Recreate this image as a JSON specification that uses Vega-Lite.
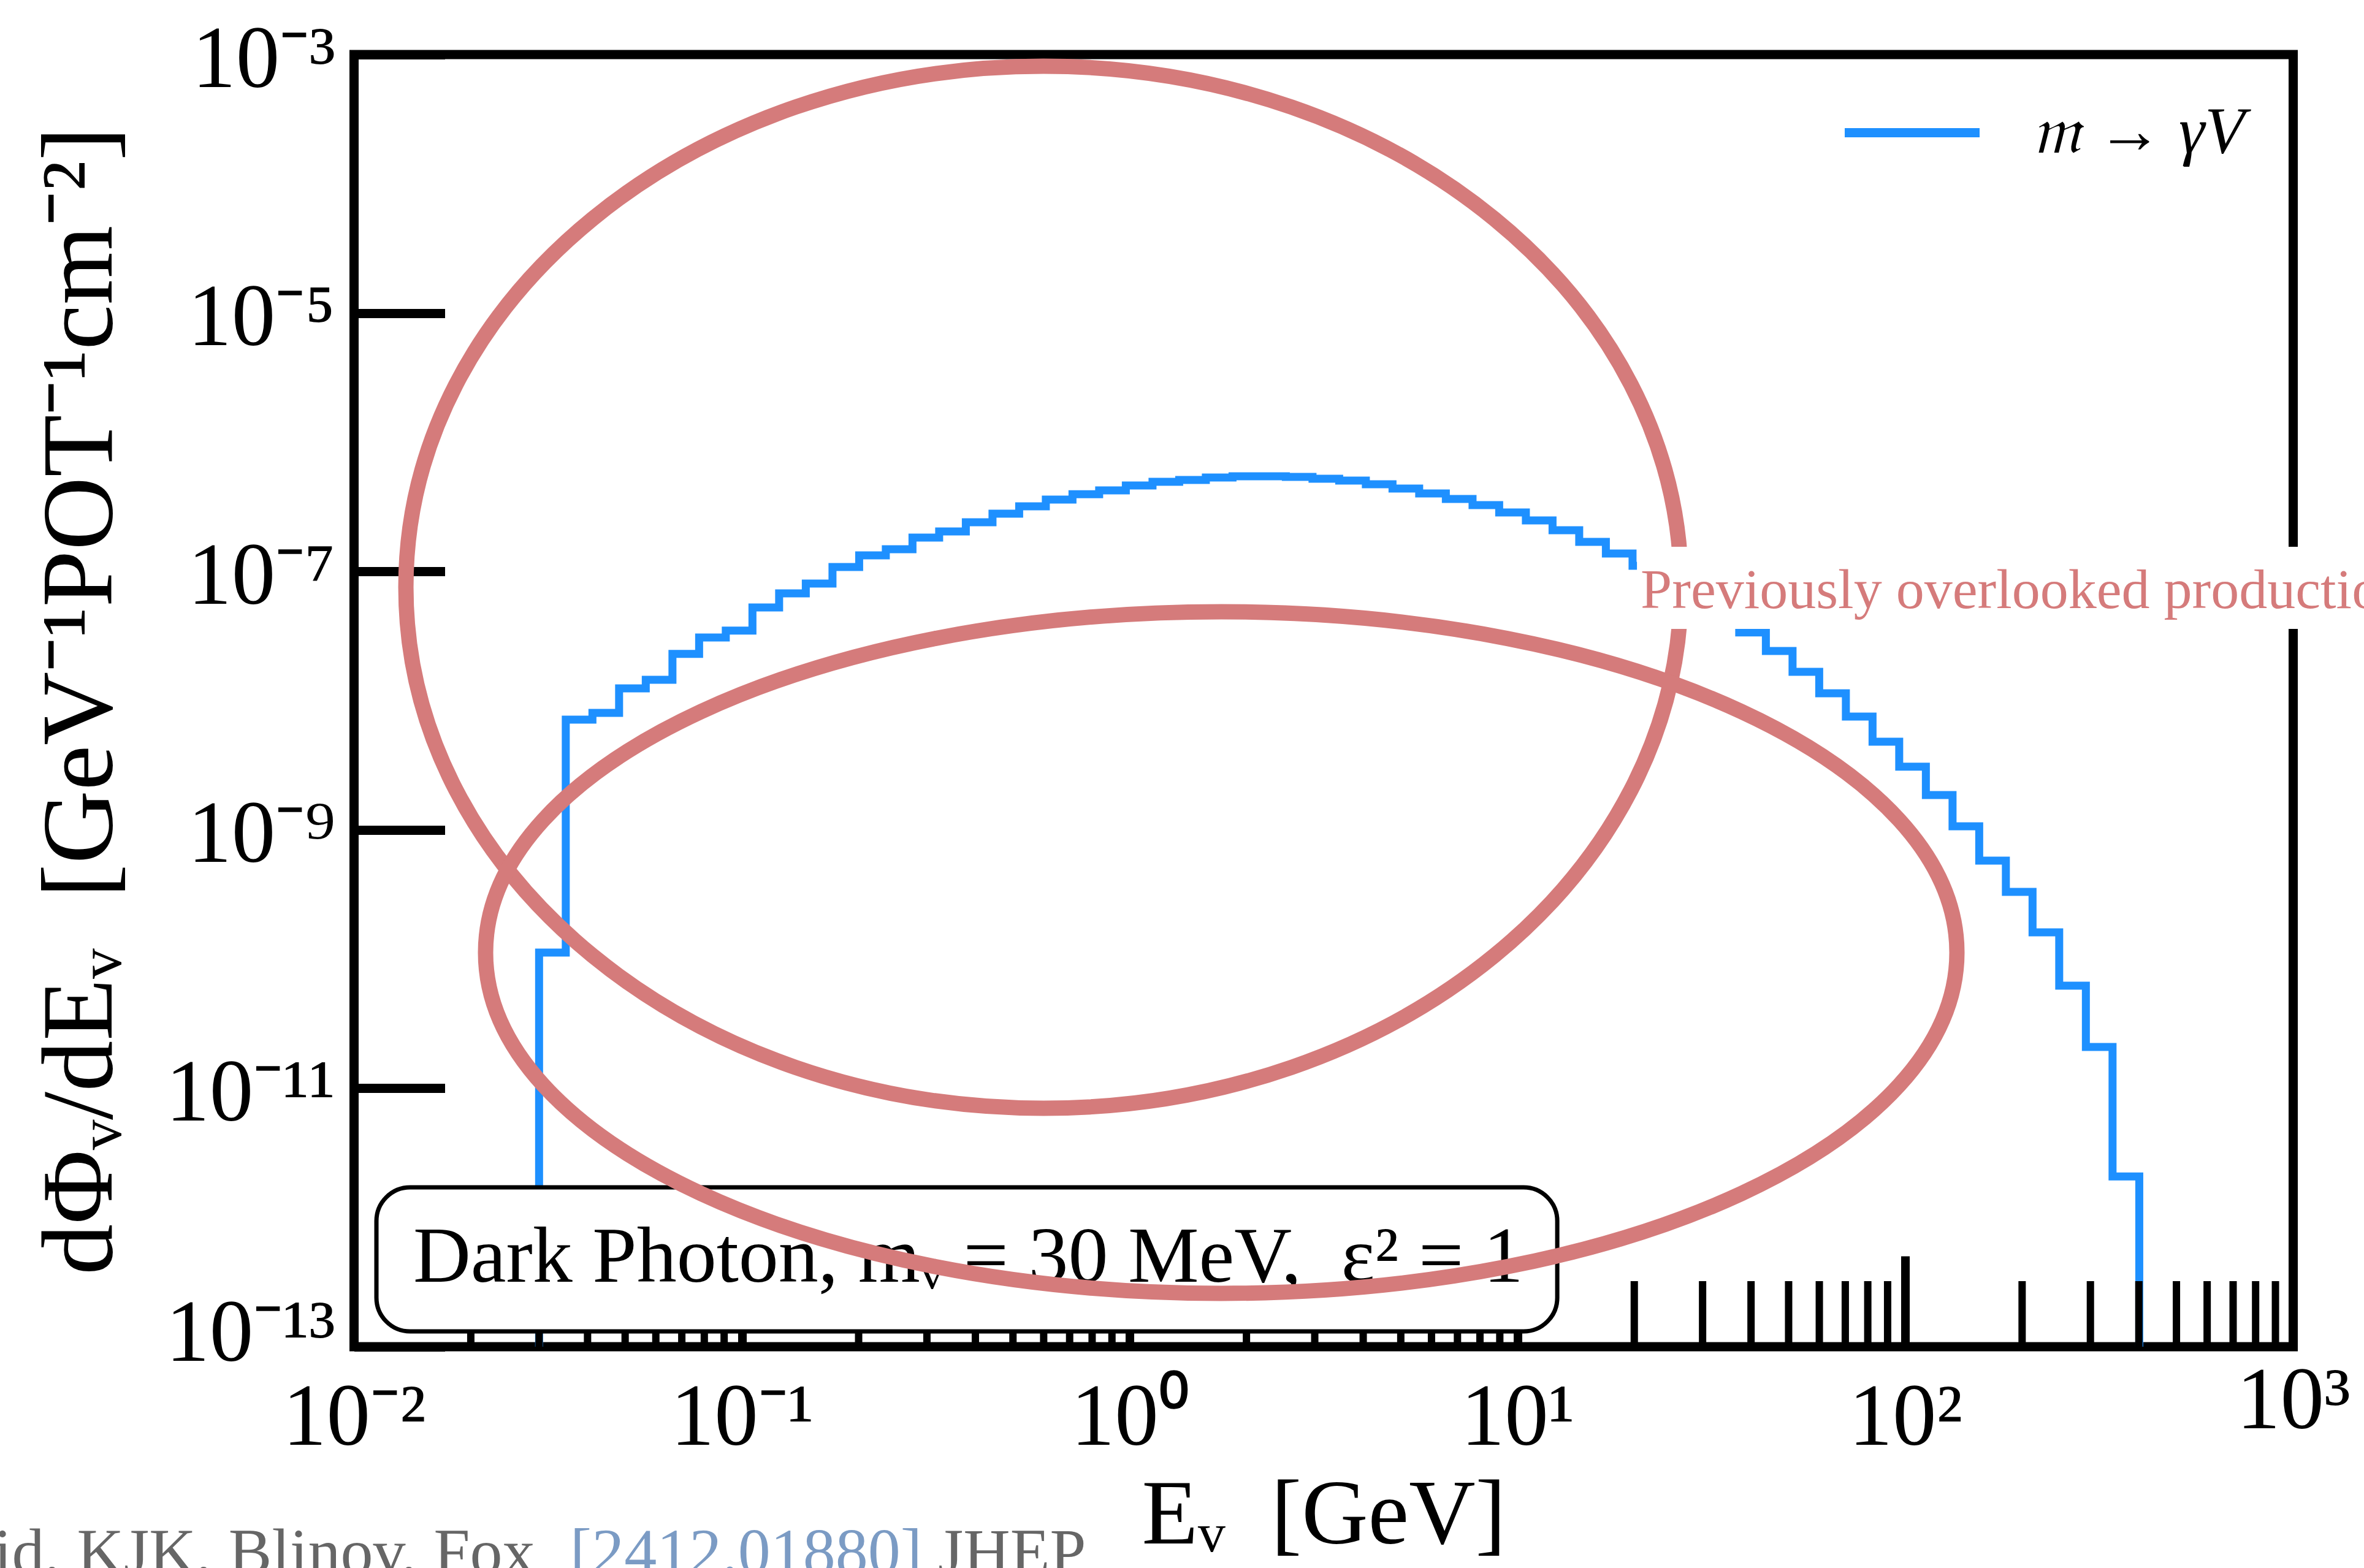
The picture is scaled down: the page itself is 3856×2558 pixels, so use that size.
{
  "$schema": "https://vega.github.io/schema/vega-lite/v6.json",
  "width": 3163,
  "height": 2108,
  "autosize": {"type": "none"},
  "padding": {"left": 577.5, "top": 89, "right": 115.5, "bottom": 361},
  "background": "white",
  "config": {
    "view": {"stroke": "black", "strokeWidth": 15},
    "font": "Liberation Serif"
  },
  "datasets": {
    "flux": [
      {"i": 0, "E": 0.03, "flux": 1e-13},
      {"i": 1, "E": 0.03, "flux": 1.122e-10},
      {"i": 2, "E": 0.03515, "flux": 7.13e-9},
      {"i": 3, "E": 0.04118, "flux": 8.04e-9},
      {"i": 4, "E": 0.04824, "flux": 1.245e-8},
      {"i": 5, "E": 0.05652, "flux": 1.449e-8},
      {"i": 6, "E": 0.06622, "flux": 2.30e-8},
      {"i": 7, "E": 0.07758, "flux": 3.08e-8},
      {"i": 8, "E": 0.09089, "flux": 3.48e-8},
      {"i": 9, "E": 0.10648, "flux": 5.26e-8},
      {"i": 10, "E": 0.12475, "flux": 6.76e-8},
      {"i": 11, "E": 0.14616, "flux": 8.05e-8},
      {"i": 12, "E": 0.17125, "flux": 1.081e-7},
      {"i": 13, "E": 0.20064, "flux": 1.330e-7},
      {"i": 14, "E": 0.23504, "flux": 1.486e-7},
      {"i": 15, "E": 0.27536, "flux": 1.828e-7},
      {"i": 16, "E": 0.32261, "flux": 2.037e-7},
      {"i": 17, "E": 0.37797, "flux": 2.399e-7},
      {"i": 18, "E": 0.44281, "flux": 2.799e-7},
      {"i": 19, "E": 0.51877, "flux": 3.192e-7},
      {"i": 20, "E": 0.60777, "flux": 3.597e-7},
      {"i": 21, "E": 0.71198, "flux": 3.963e-7},
      {"i": 22, "E": 0.83412, "flux": 4.236e-7},
      {"i": 23, "E": 0.97728, "flux": 4.624e-7},
      {"i": 24, "E": 1.1450, "flux": 4.943e-7},
      {"i": 25, "E": 1.3414, "flux": 5.105e-7},
      {"i": 26, "E": 1.5716, "flux": 5.333e-7},
      {"i": 27, "E": 1.8412, "flux": 5.445e-7},
      {"i": 28, "E": 2.1570, "flux": 5.445e-7},
      {"i": 29, "E": 2.5271, "flux": 5.383e-7},
      {"i": 30, "E": 2.9605, "flux": 5.212e-7},
      {"i": 31, "E": 3.4684, "flux": 5.047e-7},
      {"i": 32, "E": 4.0633, "flux": 4.732e-7},
      {"i": 33, "E": 4.7603, "flux": 4.375e-7},
      {"i": 34, "E": 5.5770, "flux": 4.009e-7},
      {"i": 35, "E": 6.5337, "flux": 3.639e-7},
      {"i": 36, "E": 7.6560, "flux": 3.258e-7},
      {"i": 37, "E": 8.9676, "flux": 2.858e-7},
      {"i": 38, "E": 10.508, "flux": 2.483e-7},
      {"i": 39, "E": 12.310, "flux": 2.084e-7},
      {"i": 40, "E": 14.422, "flux": 1.694e-7},
      {"i": 41, "E": 16.896, "flux": 1.377e-7},
      {"i": 42, "E": 19.795, "flux": 1.107e-7},
      {"i": 43, "E": 23.190, "flux": 8.61e-8},
      {"i": 44, "E": 27.168, "flux": 6.47e-8},
      {"i": 45, "E": 31.828, "flux": 4.72e-8},
      {"i": 46, "E": 37.289, "flux": 3.37e-8},
      {"i": 47, "E": 43.686, "flux": 2.42e-8},
      {"i": 48, "E": 51.180, "flux": 1.671e-8},
      {"i": 49, "E": 59.958, "flux": 1.140e-8},
      {"i": 50, "E": 70.245, "flux": 7.53e-9},
      {"i": 51, "E": 82.296, "flux": 4.81e-9},
      {"i": 52, "E": 96.413, "flux": 3.08e-9},
      {"i": 53, "E": 112.95, "flux": 1.858e-9},
      {"i": 54, "E": 132.33, "flux": 1.064e-9},
      {"i": 55, "E": 155.03, "flux": 5.78e-10},
      {"i": 56, "E": 181.62, "flux": 3.31e-10},
      {"i": 57, "E": 212.78, "flux": 1.611e-10},
      {"i": 58, "E": 249.28, "flux": 6.22e-11},
      {"i": 59, "E": 292.04, "flux": 2.09e-11},
      {"i": 60, "E": 342.14, "flux": 2.08e-12},
      {"i": 61, "E": 401.0, "flux": 2.08e-12},
      {"i": 62, "E": 401.0, "flux": 1e-13}
    ],
    "minor": [
      {"tick": 0.02}, {"tick": 0.03}, {"tick": 0.04}, {"tick": 0.05}, {"tick": 0.06}, {"tick": 0.07}, {"tick": 0.08}, {"tick": 0.09},
      {"tick": 0.2}, {"tick": 0.3}, {"tick": 0.4}, {"tick": 0.5}, {"tick": 0.6}, {"tick": 0.7}, {"tick": 0.8}, {"tick": 0.9},
      {"tick": 2}, {"tick": 3}, {"tick": 4}, {"tick": 5}, {"tick": 6}, {"tick": 7}, {"tick": 8}, {"tick": 9},
      {"tick": 20}, {"tick": 30}, {"tick": 40}, {"tick": 50}, {"tick": 60}, {"tick": 70}, {"tick": 80}, {"tick": 90},
      {"tick": 200}, {"tick": 300}, {"tick": 400}, {"tick": 500}, {"tick": 600}, {"tick": 700}, {"tick": 800}, {"tick": 900}
    ]
  },
  "layer": [
    {
      "data": {"name": "flux"},
      "mark": {"type": "line", "interpolate": "step-after", "strokeWidth": 13, "strokeJoin": "miter"},
      "encoding": {
        "x": {
          "field": "E", "type": "quantitative",
          "scale": {"type": "log", "domain": [0.01, 1000], "nice": false},
          "axis": {
            "title": "Eᵥ\u00a0\u00a0[GeV]",
            "values": [0.01, 0.1, 1, 10, 100, 1000],
            "labelExpr": "['10⁻²','10⁻¹','10⁰','10¹','10²','10³'][round(log(datum.value)/LN10)+2]",
            "domain": false, "grid": false,
            "tickSize": -148, "tickWidth": 14, "tickColor": "black",
            "labelFont": "Liberation Serif", "labelFontSize": 143, "labelColor": "black", "labelLimit": 0,
            "labelPadding": {"condition": {"test": "datum.value > 500", "value": 280}, "value": 307},
            "labelBaseline": "alphabetic",
            "labelFlush": false, "labelOverlap": false, "labelBound": false,
            "titleFont": "Liberation Serif", "titleFontSize": 150, "titleFontWeight": "normal",
            "titleColor": "black", "titlePadding": 13
          }
        },
        "y": {
          "field": "flux", "type": "quantitative",
          "scale": {"type": "log", "domain": [1e-13, 0.001], "nice": false},
          "axis": {
            "title": "dΦᵥ/dEᵥ\u00a0\u00a0[GeV⁻¹POT⁻¹cm⁻²]",
            "values": [1e-13, 1e-11, 1e-9, 1e-7, 1e-5, 0.001],
            "labelExpr": "['10⁻¹³','','10⁻¹¹','','10⁻⁹','','10⁻⁷','','10⁻⁵','','10⁻³'][round(log(datum.value)/LN10)+13]",
            "domain": false, "grid": false,
            "tickSize": -148, "tickWidth": 15, "tickColor": "black",
            "labelFont": "Liberation Serif", "labelFontSize": 143, "labelColor": "black", "labelLimit": 0,
            "labelPadding": 179, "labelBaseline": "alphabetic",
            "labelOffset": {"condition": {"test": "datum.value < 1e-12", "value": 22}, "value": 52},
            "labelAlign": "right",
            "labelFlush": false, "labelOverlap": false, "labelBound": false,
            "titleFont": "Liberation Serif", "titleFontSize": 166, "titleFontWeight": "normal",
            "titleColor": "black", "titlePadding": 196, "titleBaseline": "alphabetic"
          }
        },
        "order": {"field": "i", "type": "quantitative"},
        "color": {
          "datum": "𝔪 → γV", "type": "nominal",
          "scale": {"range": ["#1e90ff"]},
          "legend": {
            "title": null, "orient": "none", "legendX": 2424, "legendY": 10,
            "padding": 0, "symbolType": "stroke", "symbolSize": 48400, "symbolStrokeWidth": 15,
            "labelFont": "Liberation Serif", "labelFontSize": 107, "labelFontStyle": "italic",
            "labelColor": "black", "labelOffset": 77, "labelLimit": 2000
          }
        }
      }
    },
    {
      "data": {"name": "minor"},
      "mark": {"type": "rule", "strokeWidth": 12, "color": "black", "strokeCap": "butt"},
      "encoding": {
        "x": {"field": "tick", "type": "quantitative", "title": "Eᵥ\u00a0\u00a0[GeV]"},
        "y": {"datum": 1e-13, "type": "quantitative"},
        "y2": {"datum": 3.218e-13}
      }
    },
    {
      "data": {"values": [{"note": "Dark Photon, mᵥ = 30 MeV,\u00a0\u00a0ε² = 1"}]},
      "layer": [
        {
          "mark": {"type": "rect", "fill": "white", "stroke": "black", "strokeWidth": 7, "cornerRadius": 55},
          "encoding": {
            "x": {"datum": 0.011421, "type": "quantitative"},
            "x2": {"datum": 12.66},
            "y": {"datum": 1.711e-12, "type": "quantitative"},
            "y2": {"datum": 1.314e-13}
          }
        },
        {
          "mark": {"type": "text", "align": "left", "baseline": "alphabetic", "font": "Liberation Serif", "fontSize": 130, "color": "black"},
          "encoding": {
            "x": {"datum": 0.014207, "type": "quantitative"},
            "y": {"datum": 3.18e-13, "type": "quantitative"},
            "text": {"field": "note"}
          }
        }
      ]
    },
    {
      "data": {"values": [{"ellipse": "upper"}]},
      "mark": {"type": "point", "shape": "M1,0C1,0.4514,0.5523,0.8173,0,0.8173C-0.5523,0.8173,-1,0.4514,-1,0C-1,-0.4514,-0.5523,-0.8173,0,-0.8173C0.5523,-0.8173,1,-0.4514,1,0Z", "size": 4326400, "filled": false, "color": "#d57b7b", "stroke": "#d57b7b", "strokeWidth": 25, "opacity": 1},
      "encoding": {
        "x": {"datum": 0.5993, "type": "quantitative"},
        "y": {"datum": 7.544e-8, "type": "quantitative"}
      }
    },
    {
      "data": {"values": [{"ellipse": "lower"}]},
      "mark": {"type": "point", "shape": "M1,0C1,0.2559,0.5523,0.4633,0,0.4633C-0.5523,0.4633,-1,0.2559,-1,0C-1,-0.2559,-0.5523,-0.4633,0,-0.4633C0.5523,-0.4633,1,-0.2559,1,0Z", "size": 5760000, "filled": false, "color": "#d57b7b", "stroke": "#d57b7b", "strokeWidth": 25, "opacity": 1},
      "encoding": {
        "x": {"datum": 1.722, "type": "quantitative"},
        "y": {"datum": 1.123e-10, "type": "quantitative"}
      }
    },
    {
      "data": {"values": [{"note": "Previously overlooked production"}]},
      "layer": [
        {
          "mark": {"type": "rect", "fill": "white", "strokeWidth": 0},
          "encoding": {
            "x": {"datum": 20.32, "type": "quantitative"},
            "x2": {"datum": 98000},
            "y": {"datum": 1.551e-7, "type": "quantitative"},
            "y2": {"datum": 3.589e-8}
          }
        },
        {
          "mark": {"type": "text", "align": "left", "baseline": "alphabetic", "font": "Liberation Serif", "fontSize": 92, "color": "#d57b7b"},
          "encoding": {
            "x": {"datum": 20.77, "type": "quantitative"},
            "y": {"datum": 5.203e-8, "type": "quantitative"},
            "text": {"field": "note"}
          }
        }
      ]
    },
    {
      "data": {"values": [{"credit": "id, KJK, Blinov, Fox", "ref": "[2412.01880]", "journal": "JHEP"}]},
      "layer": [
        {
          "mark": {"type": "text", "align": "left", "baseline": "alphabetic", "font": "Liberation Serif", "fontSize": 106, "color": "#666666"},
          "encoding": {
            "x": {"datum": 0.0011785, "type": "quantitative"},
            "y": {"datum": 1.758e-15, "type": "quantitative"},
            "text": {"field": "credit"}
          }
        },
        {
          "mark": {"type": "text", "align": "left", "baseline": "alphabetic", "font": "Liberation Serif", "fontSize": 106, "color": "#7b9bc4"},
          "encoding": {
            "x": {"datum": 0.03606, "type": "quantitative"},
            "y": {"datum": 1.758e-15, "type": "quantitative"},
            "text": {"field": "ref"}
          }
        },
        {
          "mark": {"type": "text", "align": "left", "baseline": "alphabetic", "font": "Liberation Serif", "fontSize": 106, "color": "#666666"},
          "encoding": {
            "x": {"datum": 0.3204, "type": "quantitative"},
            "y": {"datum": 1.758e-15, "type": "quantitative"},
            "text": {"field": "journal"}
          }
        }
      ]
    }
  ]
}
